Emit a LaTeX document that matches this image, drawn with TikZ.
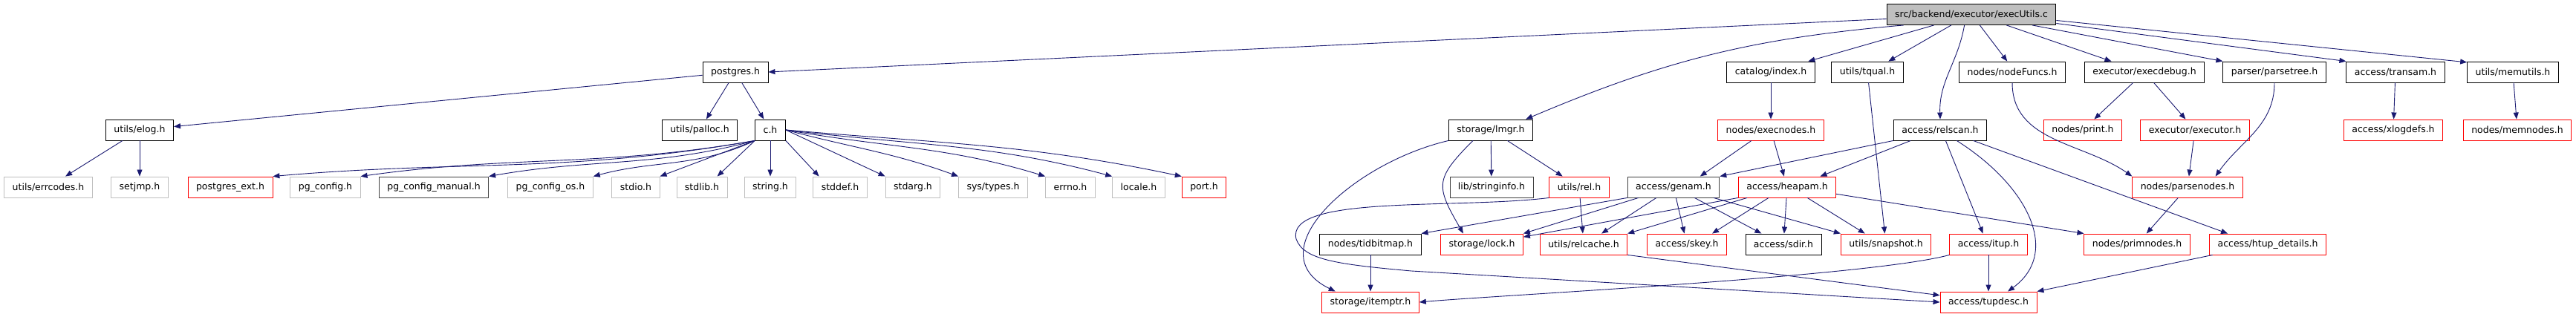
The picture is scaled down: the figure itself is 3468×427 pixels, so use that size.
\documentclass[tikz,border=0pt]{standalone}
\usepackage{fontspec}
\setmainfont{DejaVu Sans}
\usetikzlibrary{arrows.meta}
\definecolor{edgeblue}{HTML}{191970}
\definecolor{sysgrey}{HTML}{BFBFBF}
\definecolor{darkframe}{HTML}{404040}
\definecolor{redframe}{HTML}{FF0000}
\definecolor{rootfill}{HTML}{BFBFBF}
\begin{document}
\begin{tikzpicture}[x=1pt,y=1pt,>={Triangle[length=9pt,width=7pt]},
  file/.style={draw=black,line width=0.9pt,minimum height=28pt,inner xsep=11pt,font=\fontsize{12.5}{15}\selectfont},
  redfile/.style={file,draw=redframe},
  sysfile/.style={file,draw=sysgrey},
  darkfile/.style={file,draw=darkframe},
  dep/.style={->,draw=edgeblue,line width=0.9pt}]
\useasboundingbox (0,0) rectangle (3468,-427);
\node[file,fill=rootfill] (top) at (2654,-19.5) {src/backend/executor/execUtils.c};

\node[file] (pgres) at (990,-97) {postgres.h};
\node[file] (index) at (2384,-97) {catalog/index.h};
\node[file] (tqual) at (2514,-97) {utils/tqual.h};
\node[file] (nfuncs) at (2709,-97) {nodes/nodeFuncs.h};
\node[file] (edebug) at (2887,-97) {executor/execdebug.h};
\node[file] (ptree) at (3062,-97) {parser/parsetree.h};
\node[file] (transam) at (3225,-97) {access/transam.h};
\node[file] (memutils) at (3383,-97) {utils/memutils.h};

\node[file] (elog) at (188,-175) {utils/elog.h};
\node[file] (palloc) at (942,-175) {utils/palloc.h};
\node[file] (ch) at (1037,-175) {c.h};
\node[file] (lmgr) at (2007,-175) {storage/lmgr.h};
\node[redfile] (enodes) at (2384,-175) {nodes/execnodes.h};
\node[file] (relscan) at (2612,-175) {access/relscan.h};
\node[redfile] (print) at (2804,-175) {nodes/print.h};
\node[redfile] (executor) at (2955,-175) {executor/executor.h};
\node[redfile] (xlog) at (3222,-175) {access/xlogdefs.h};
\node[redfile] (memnodes) at (3389,-175) {nodes/memnodes.h};

\node[sysfile] (errcodes) at (65,-252) {utils/errcodes.h};
\node[sysfile] (setjmp) at (188,-252) {setjmp.h};
\node[redfile] (pgext) at (310,-252) {postgres\_ext.h};
\node[sysfile] (pgcfg) at (438,-252) {pg\_config.h};
\node[darkfile] (pgman) at (584,-252) {pg\_config\_manual.h};
\node[sysfile] (pgos) at (741,-252) {pg\_config\_os.h};
\node[sysfile] (stdio) at (856,-252) {stdio.h};
\node[sysfile] (stdlib) at (945,-252) {stdlib.h};
\node[sysfile] (string) at (1037,-252) {string.h};
\node[sysfile] (stddef) at (1131,-252) {stddef.h};
\node[sysfile] (stdarg) at (1229,-252) {stdarg.h};
\node[sysfile] (systypes) at (1337,-252) {sys/types.h};
\node[sysfile] (errno) at (1441,-252) {errno.h};
\node[sysfile] (locale) at (1533,-252) {locale.h};
\node[redfile] (port) at (1621,-252) {port.h};
\node[darkfile] (sinfo) at (2008,-252) {lib/stringinfo.h};
\node[redfile] (rel) at (2126,-252) {utils/rel.h};
\node[darkfile] (genam) at (2253,-252) {access/genam.h};
\node[redfile] (heapam) at (2406,-252) {access/heapam.h};
\node[redfile] (pnodes) at (2945,-252) {nodes/parsenodes.h};

\node[file] (tidbm) at (1845,-329) {nodes/tidbitmap.h};
\node[redfile] (lock) at (1995,-329) {storage/lock.h};
\node[redfile] (relcache) at (2132,-329) {utils/relcache.h};
\node[redfile] (skey) at (2271,-329) {access/skey.h};
\node[file] (sdir) at (2401,-329) {access/sdir.h};
\node[redfile] (snap) at (2539,-329) {utils/snapshot.h};
\node[redfile] (itup) at (2677,-329) {access/itup.h};
\node[redfile] (prim) at (2877,-329) {nodes/primnodes.h};
\node[redfile] (htup) at (3053,-329) {access/htup\_details.h};

\node[redfile] (itemptr) at (1845,-407) {storage/itemptr.h};
\node[redfile] (tupdesc) at (2677,-407) {access/tupdesc.h};

\draw[dep] (top.183) -- (pgres.east);
\draw[dep] (top.189) to[bend right=9] (lmgr.17);
\draw[dep] (top.196) -- (index.16);
\draw[dep] (top.208) -- (tqual.27);
\draw[dep] (top.237) to[out=260,in=92] (relscan.north);
\draw[dep] (top.308) -- (nfuncs.115);
\draw[dep] (top.343) -- (edebug.162);
\draw[dep] (top.350) -- (ptree.north west);
\draw[dep] (top.354) -- (transam.north west);
\draw[dep] (top.356) -- (memutils.168);

\draw[dep] (pgres) -- (elog);
\draw[dep] (pgres) -- (palloc);
\draw[dep] (pgres) -- (ch);
\draw[dep] (elog) -- (errcodes);
\draw[dep] (elog) -- (setjmp);

\draw[dep] (ch.south west) to[out=190,in=5] (pgext.north east);
\draw[dep] (ch.south west) to[out=190,in=8] (pgcfg.north east);
\draw[dep] (ch.south west) to[out=195,in=10] (pgman.north east);
\draw[dep] (ch.south west) to[out=205,in=15] (pgos.north east);
\draw[dep] (ch.south west) -- (stdio.north east);
\draw[dep] (ch.south west) -- (stdlib.35);
\draw[dep] (ch) -- (string);
\draw[dep] (ch.south east) -- (stddef.153);
\draw[dep] (ch.east) to[out=-25,in=155] (stdarg.north west);
\draw[dep] (ch.east) to[out=-15,in=160] (systypes.north west);
\draw[dep] (ch.east) to[out=-10,in=163] (errno.north west);
\draw[dep] (ch.east) to[out=-7,in=165] (locale.north west);
\draw[dep] (ch.east) to[out=-5,in=168] (port.north west);

\draw[dep] (lmgr) -- (sinfo);
\draw[dep] (lmgr) -- (rel);
\draw[dep] (lmgr.211) to[out=225,in=120,looseness=1.5] (lock.150);
\draw[dep] (lmgr.south west) .. controls (1820,-220) and (1690,-340) .. (itemptr.163);
\draw[dep] (rel) -- (relcache);
\draw[dep] (rel.south west) .. controls (1960,-282) and (1730,-262) .. (1745,-322) .. controls (1755,-350) and (1800,-356) .. (1900,-365) -- (tupdesc.west);

\draw[dep] (index) -- (enodes);
\draw[dep] (enodes.209) -- (genam.22);
\draw[dep] (enodes) -- (heapam);
\draw[dep] (relscan.south west) -- (genam.north east);
\draw[dep] (relscan.200) -- (heapam.18);
\draw[dep] (relscan.297) -- (itup.117);
\draw[dep] (relscan.327) .. controls (2730,-250) and (2775,-340) .. (tupdesc.29);
\draw[dep] (relscan.342) -- (htup.165);
\draw[dep] (tqual) -- (snap);

\draw[dep] (genam.south west) -- (tidbm.north east);
\draw[dep] (genam.197) -- (lock.north east);
\draw[dep] (genam.212) -- (relcache.31);
\draw[dep] (genam) -- (skey);
\draw[dep] (genam.333) -- (sdir.154);
\draw[dep] (genam.345) -- (snap.north west);
\draw[dep] (heapam.south west) -- (lock.10);
\draw[dep] (heapam.195) -- (relcache.north east);
\draw[dep] (heapam.210) -- (skey.23);
\draw[dep] (heapam) -- (sdir);
\draw[dep] (heapam.332) -- (snap.153);
\draw[dep] (heapam.352) -- (prim.north west);

\draw[dep] (nfuncs.south) to[out=-90,in=145] (pnodes.north west);
\draw[dep] (edebug) -- (print);
\draw[dep] (edebug) -- (executor);
\draw[dep] (executor) -- (pnodes);
\draw[dep] (ptree.south) to[out=-90,in=55] (pnodes.21);
\draw[dep] (pnodes) -- (prim);
\draw[dep] (transam) -- (xlog);
\draw[dep] (memutils) -- (memnodes);

\draw[dep] (tidbm) -- (itemptr);
\draw[dep] (itup) -- (tupdesc);
\draw[dep] (itup.south west) to[out=195,in=5,looseness=0.4] (itemptr.east);
\draw[dep] (relcache.south east) -- (tupdesc.172);
\draw[dep] (htup.191) -- (tupdesc.north east);
\end{tikzpicture}
\end{document}
